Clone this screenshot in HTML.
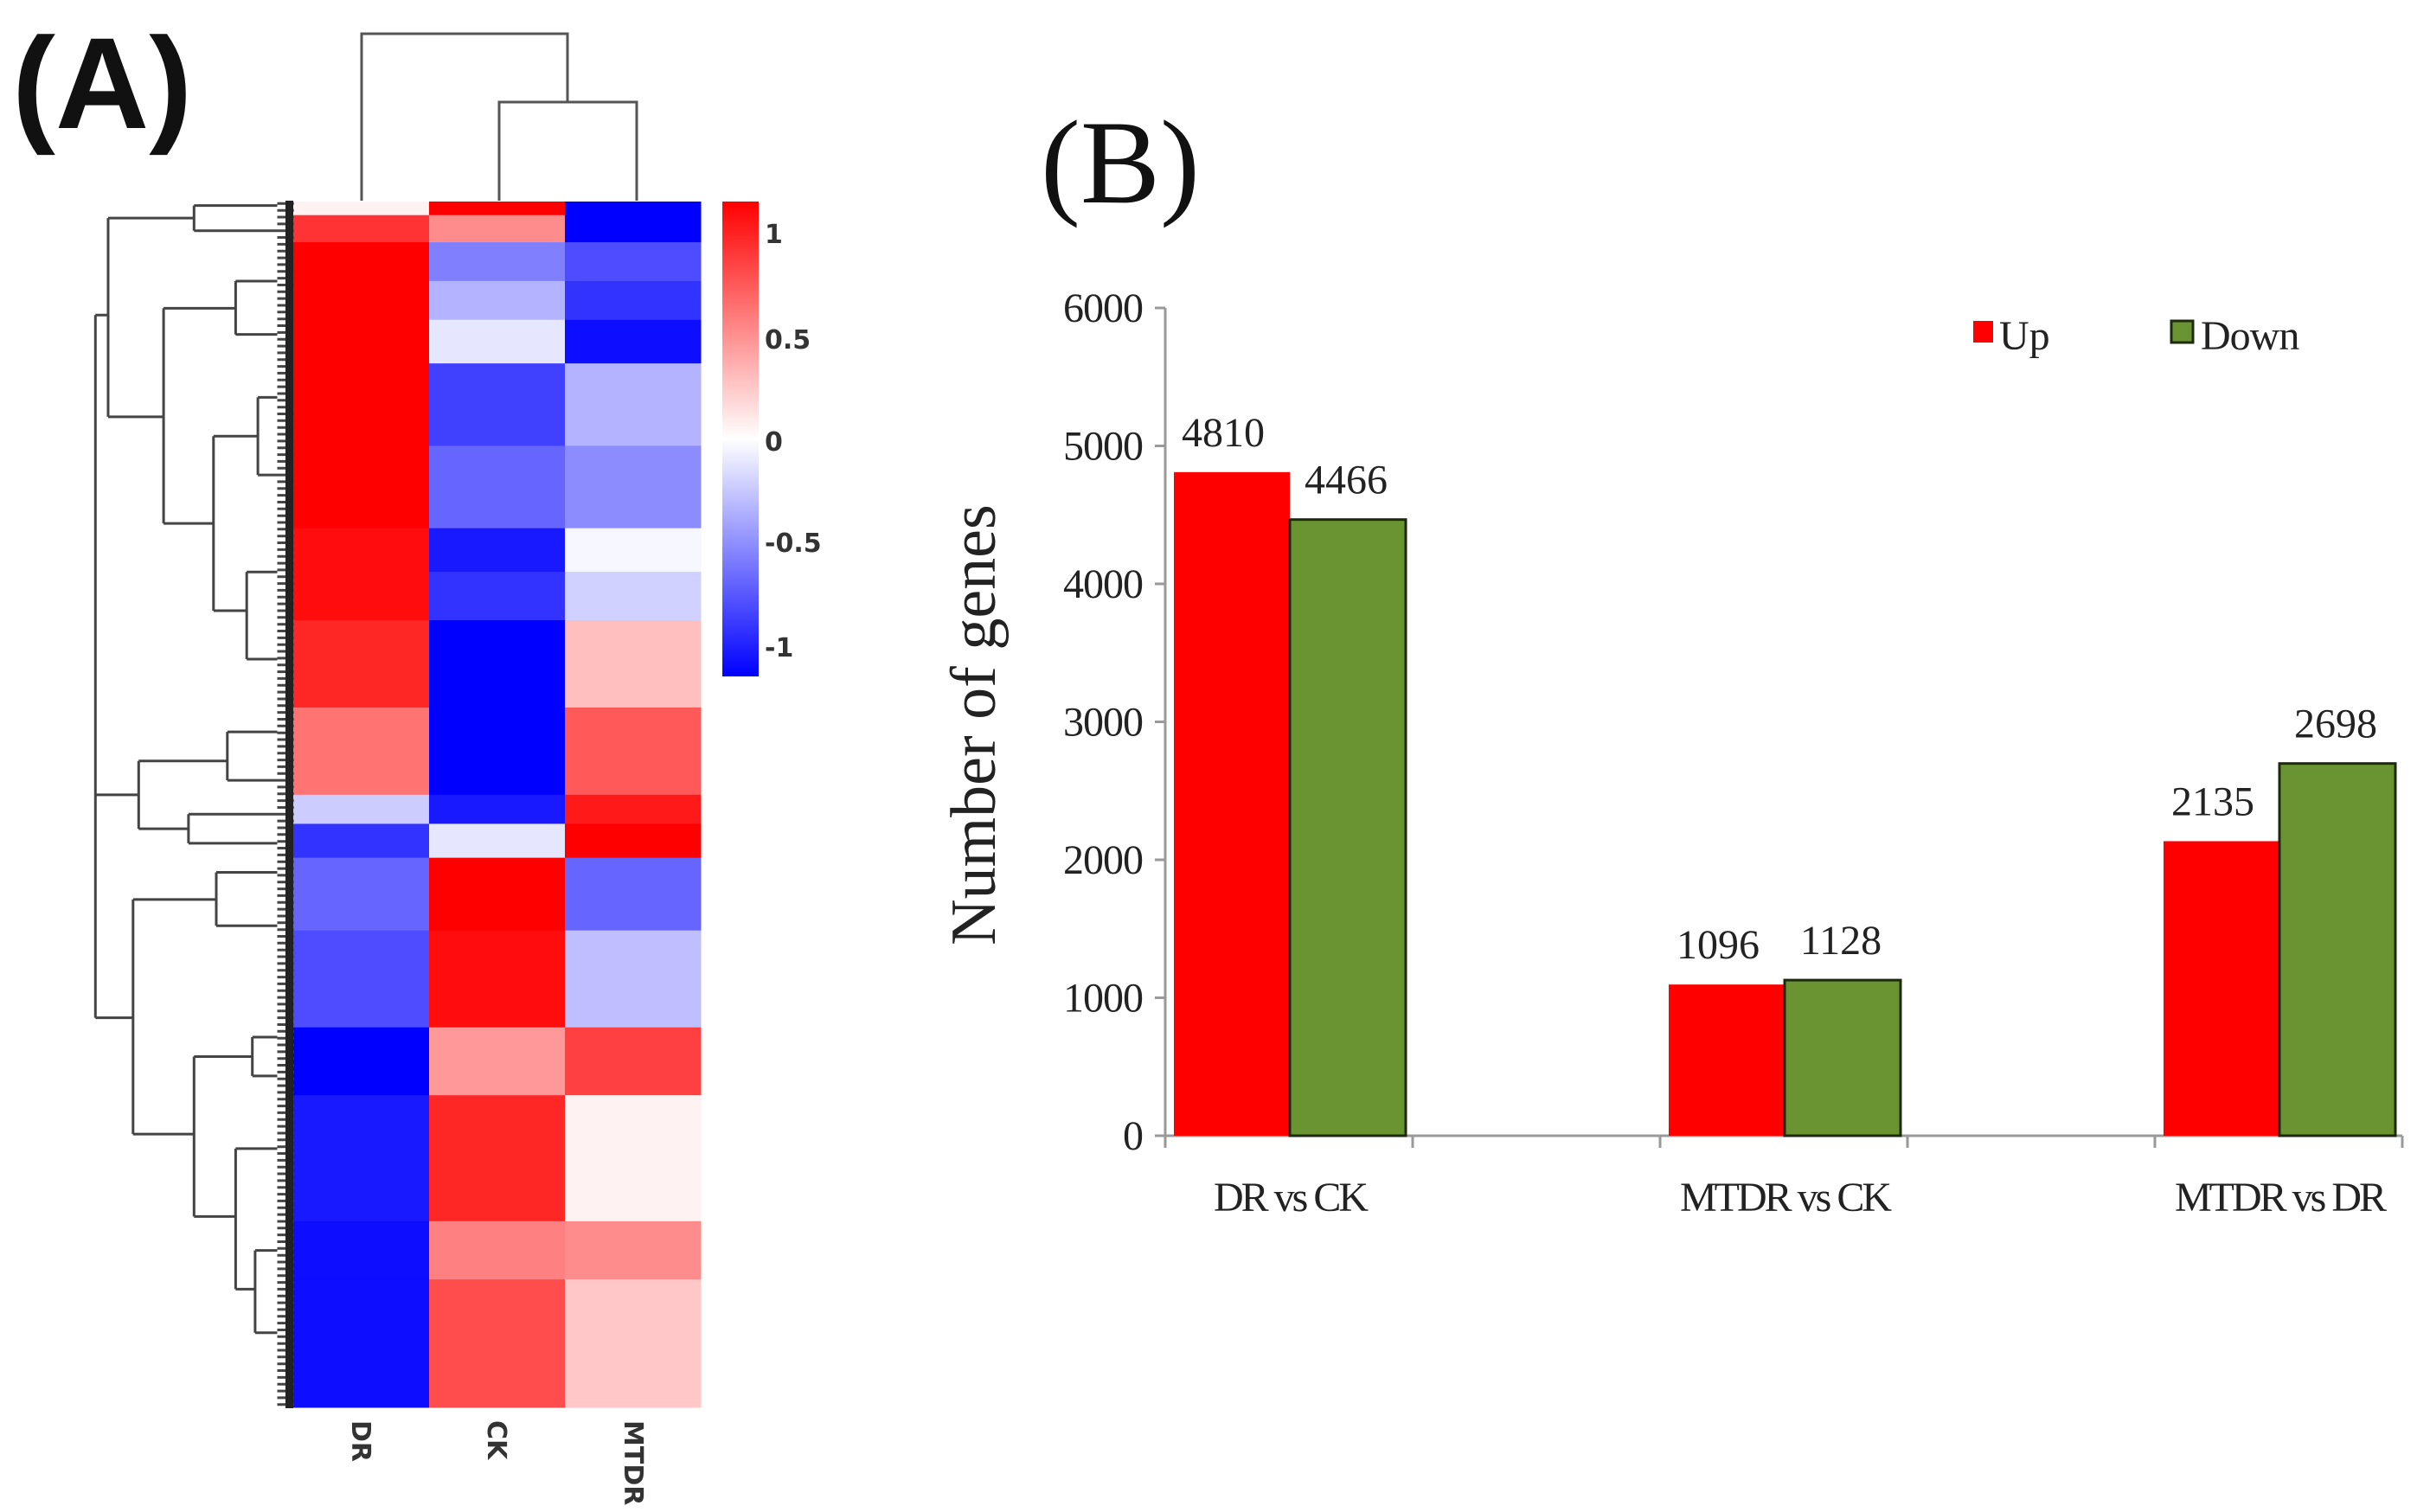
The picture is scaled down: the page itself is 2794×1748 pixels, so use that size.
<!DOCTYPE html>
<html><head><meta charset="utf-8">
<style>
html,body{margin:0;padding:0;background:#fff;}
svg{display:block;}
</style></head>
<body>
<svg id="fig" width="2794" height="1748" viewBox="0 0 2794 1748" xmlns="http://www.w3.org/2000/svg">
<defs>
<linearGradient id="cbar" x1="0" y1="0" x2="0" y2="1">
<stop offset="0" stop-color="#ff0000"/><stop offset="0.5" stop-color="#ffffff"/><stop offset="1" stop-color="#0000ff"/>
</linearGradient>
</defs>
<text x="14" y="148" font-family="Liberation Sans, sans-serif" font-weight="bold" font-size="150" fill="#111">(A)</text>
<text x="1203" y="234" font-family="Liberation Serif, serif" font-size="138" fill="#111">(B)</text>
<g id="heat"></g>
<g id="rowdend" stroke="#444" stroke-width="3" fill="none"></g>
<g id="coldend" stroke="#555" stroke-width="3" fill="none">
<path d="M418 232 V39 H656 V118 M577 232 V118 H736 V232"/>
</g>
<g>
<rect x="835" y="233" width="42" height="549" fill="url(#cbar)"/>
<g font-family="DejaVu Sans, sans-serif" font-size="30" font-weight="bold" fill="#333">
<text x="884" y="281">1</text>
<text x="884" y="403">0.5</text>
<text x="884" y="521">0</text>
<text x="884" y="638">-0.5</text>
<text x="884" y="759">-1</text>
</g>
</g>
<g font-family="DejaVu Sans, sans-serif" font-size="30" font-weight="bold" fill="#333">
<text transform="translate(407,1642) rotate(90)">DR</text>
<text transform="translate(564,1642) rotate(90)">CK</text>
<text transform="translate(722,1642) rotate(90)">MTDR</text>
</g>
<g id="bars"></g>
</svg>
<script>
// ---- Heatmap data (blocks: start/end in relative rows 0..1244, values per column) ----
const blockStart = [0,14,42,82,122,167,252,337,382,432,522,612,642,677,752,852,922,1052,1112];
const blockEnd   = [14,42,82,122,167,252,337,382,432,522,612,642,677,752,852,922,1052,1112,1244];
const drVals   = [0.05,0.8,1,1,1,1,1,0.95,0.95,0.85,0.55,-0.2,-0.8,-0.6,-0.7,-1,-0.9,-0.95,-0.95];
const ckVals   = [1,0.45,-0.5,-0.3,-0.1,-0.75,-0.6,-0.9,-0.8,-1,-1,-0.9,-0.1,1,0.95,0.4,0.85,0.5,0.7];
const mtdrVals = [-1,-1,-0.7,-0.8,-0.95,-0.3,-0.45,-0.03,-0.18,0.25,0.65,0.9,1,-0.6,-0.25,0.75,0.05,0.45,0.22];
const columns = ['DR','CK','MTDR'];
const NS='http://www.w3.org/2000/svg';
const hx0=339, hcolW=157, hy0=233, hyScale=1394/1244;
function col(v){
  if(v>=0){const c=Math.round(255*(1-v));return `rgb(255,${c},${c})`;}
  const c=Math.round(255*(1+v));return `rgb(${c},${c},255)`;
}
const heat=document.getElementById('heat');
[drVals,ckVals,mtdrVals].forEach((vals,ci)=>{
  vals.forEach((v,i)=>{
    const r=document.createElementNS(NS,'rect');
    r.setAttribute('x',hx0+ci*hcolW);
    r.setAttribute('y',hy0+blockStart[i]*hyScale);
    r.setAttribute('width',hcolW+0.5);
    r.setAttribute('height',(blockEnd[i]-blockStart[i])*hyScale+0.5);
    r.setAttribute('fill',col(v));
    
    
    heat.appendChild(r);
  });
});
// ---- Row dendrogram (zoom coords scaled) ----
const sx=0.641, sy=1.1206;
const dpaths=[
 'M172 325 V1050','M172 325 H195','M195 225 V430','M195 225 H350','M350 212 V238','M350 212 H500','M350 238 H500',
 'M195 430 H295','M295 318 V540','M295 318 H425','M425 290 V345','M425 290 H500','M425 345 H500','M295 540 H385','M385 450 V630','M385 450 H465','M465 410 V490','M465 410 H500','M465 490 H500','M385 630 H445','M445 590 V680','M445 590 H500','M445 680 H500',
 'M172 820 H250','M250 785 V855','M250 785 H410','M410 755 V805','M410 755 H500','M410 805 H500','M250 855 H340','M340 840 V870','M340 840 H500','M340 870 H500',
 'M172 1050 H240','M240 928 V1170','M240 928 H390','M390 900 V955','M390 900 H500','M390 955 H500','M240 1170 H350','M350 1090 V1255','M350 1090 H455','M455 1070 V1110','M455 1070 H500','M455 1110 H500','M350 1255 H425','M425 1185 V1330','M425 1185 H500','M425 1330 H460','M460 1290 V1375','M460 1290 H500','M460 1375 H500'
];
const rd=document.getElementById('rowdend');
let d='';
dpaths.forEach(p=>{d+=p.replace(/([MHV])\s*(\d+)(?:\s+(\d+))?/g,(m,c,a,b)=>{
  if(c==='M')return `M${(+a*sx).toFixed(1)} ${(+b*sy).toFixed(1)} `;
  if(c==='H')return `H${(+a*sx).toFixed(1)} `;
  return `V${(+a*sy).toFixed(1)} `;})});
for(let y=210;y<1452;y+=7){d+=`M${(500*sx).toFixed(1)} ${(y*sy).toFixed(1)} H${(530*sx).toFixed(1)} `;}
const rp=document.createElementNS(NS,'path');
rp.setAttribute('d',d);


rd.appendChild(rp);
const blk=document.createElementNS(NS,'rect');
blk.setAttribute('x',330);blk.setAttribute('y',232);blk.setAttribute('width',9);blk.setAttribute('height',1396);
blk.setAttribute('fill','#222');blk.setAttribute('stroke','none');


rd.appendChild(blk);

// ---- Bar chart data ----
const categories = ['DR vs CK','MTDR vs CK','MTDR vs DR'];
const upValues = [4810,1096,2135];
const downValues = [4466,1128,2698];
const yTicks = [0,1000,2000,3000,4000,5000,6000];
const seriesNames = ['Up','Down'];
const ax0=1347, axEnd=2777, yBase=1313, yTop=356, yMax=6000;
const groupW=(axEnd-ax0)/2.5, barW=134;
function yS(v){return yBase-(v/yMax)*(yBase-yTop);}
function gx(i){return ax0+10+i*groupW;}
const g=document.getElementById('bars');
function el(tag,attrs,name,txt){const e=document.createElementNS(NS,tag);for(const k in attrs)e.setAttribute(k,attrs[k]);
  
  
  if(txt!==undefined)e.textContent=txt;g.appendChild(e);return e;}
const serif='Liberation Serif, serif';
el('line',{x1:ax0,y1:yTop,x2:ax0,y2:yBase+12,stroke:'#999','stroke-width':3},'y-axis');
el('line',{x1:ax0,y1:yBase,x2:axEnd,y2:yBase,stroke:'#999','stroke-width':3},'x-axis');
yTicks.forEach(t=>{
  el('line',{x1:ax0-12,y1:yS(t),x2:ax0,y2:yS(t),stroke:'#999','stroke-width':3},'y-tick-'+t);
  el('text',{x:ax0-26,y:yS(t)+16,'text-anchor':'end','font-family':serif,'font-size':48,fill:'#222','letter-spacing':'-1'},'y-tick-label-'+t,t);
});
for(let k=0;k<=5;k++){const x=ax0+k*(axEnd-ax0)/5;
  el('line',{x1:x,y1:yBase,x2:x,y2:yBase+14,stroke:'#999','stroke-width':3},'x-tick-'+k);}
categories.forEach((c,i)=>{
  const x=gx(i);
  el('rect',{x:x,y:yS(upValues[i]),width:barW,height:yBase-yS(upValues[i]),fill:'#ff0000'},'bar-up-'+i);
  el('rect',{x:x+barW,y:yS(downValues[i]),width:barW,height:yBase-yS(downValues[i]),fill:'#6a9432',stroke:'#1d2a10','stroke-width':3},'bar-down-'+i);
  el('text',{x:x+barW/2-10,y:yS(upValues[i])-30,'text-anchor':'middle','font-family':serif,'font-size':48,fill:'#222'},'value-up-'+i,upValues[i]);
  el('text',{x:x+barW+barW/2-2,y:yS(downValues[i])-30,'text-anchor':'middle','font-family':serif,'font-size':48,fill:'#222'},'value-down-'+i,downValues[i]);
  el('text',{x:x+barW,y:yBase+87,'text-anchor':'middle','font-family':serif,'font-size':48,fill:'#222','letter-spacing':'-3'},'x-label-'+i,c);
});
el('text',{transform:'translate(1150,838) rotate(-90)','text-anchor':'middle','font-family':serif,'font-size':74,fill:'#222'},'y-axis-title','Number of genes');
el('rect',{x:2281,y:371,width:23,height:25,fill:'#ff0000'},'legend-swatch-up');
el('text',{x:2311,y:404,'font-family':serif,'font-size':48,fill:'#222'},'legend-label-up',seriesNames[0]);
el('rect',{x:2510,y:371,width:25,height:25,fill:'#6a9432',stroke:'#1d2a10','stroke-width':3},'legend-swatch-down');
el('text',{x:2544,y:404,'font-family':serif,'font-size':48,fill:'#222','letter-spacing':'-1'},'legend-label-down',seriesNames[1]);
</script>
</body></html>
